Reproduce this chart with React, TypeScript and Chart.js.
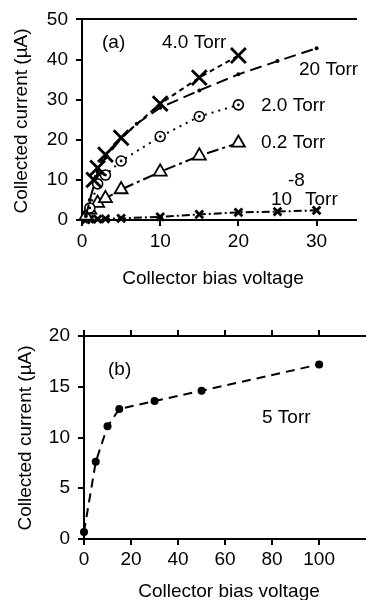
import React, { useEffect, useRef } from "react";
import { Chart, registerables } from "chart.js";

Chart.register(...registerables);

const FONT = '"Liberation Sans", Arial, Helvetica, sans-serif';
const BLACK = "#000";

// ---------- Panel (a) data ----------
const voltsA40 = [1.5, 2, 3, 5, 10, 15, 20];
const currA40 = [10, 13, 16.3, 20.5, 29, 35.5, 41];
const voltsA20 = [0.5, 1, 2, 3, 5, 7, 10, 15, 20, 25, 30];
const currA20 = [1, 5, 12, 15.5, 20.3, 24, 28, 32.3, 36.3, 39.6, 42.8];
const voltsA2 = [1, 2, 3, 5, 10, 15, 20];
const currA2 = [3, 9, 11.2, 14.7, 20.8, 25.8, 28.7];
const voltsA02 = [0.5, 1, 2, 3, 5, 10, 15, 20];
const currA02 = [1, 2.5, 4.2, 5.4, 7.6, 12, 16, 19.2];
const voltsAvac = [0.5, 1, 2, 3, 5, 10, 15, 20, 25, 30];
const currAvac = [0.1, 0.2, 0.2, 0.3, 0.4, 0.8, 1.4, 1.9, 2.1, 2.4];
const xTicksA = [0, 10, 20, 30];
const yTicksA = [0, 10, 20, 30, 40, 50];

// ---------- Panel (b) data ----------
const voltsB = [0, 5, 10, 15, 30, 50, 100];
const currB = [0.7, 7.6, 11.1, 12.8, 13.6, 14.6, 17.2];
const xTicksB = [0, 20, 40, 60, 80, 100];
const yTicksB = [0, 5, 10, 15, 20];

const xTitle = "Collector bias voltage";
const yTitle = "Collected current (\u00b5A)";

const pts = (xs: number[], ys: number[]) => xs.map((x, i) => ({ x, y: ys[i] }));
const setTicks = (vals: number[]) => (s: any) => {
  s.ticks = vals.map((v) => ({ value: v }));
};

type TextItem = { text: string; x: number; y: number; align?: CanvasTextAlign; rot?: boolean; size?: number };

const textPlugin = (items: TextItem[]) => ({
  id: "texts",
  afterDraw(chart: any) {
    const ctx = chart.ctx;
    ctx.save();
    ctx.fillStyle = BLACK;
    ctx.textBaseline = "middle";
    for (const it of items) {
      ctx.font = `${it.size || 19}px ${FONT}`;
      ctx.textAlign = it.align || "left";
      if (it.rot) {
        ctx.save();
        ctx.translate(it.x, it.y);
        ctx.rotate(-Math.PI / 2);
        ctx.textAlign = "center";
        ctx.fillText(it.text, 0, 0);
        ctx.restore();
      } else {
        ctx.fillText(it.text, it.x, it.y);
      }
    }
    ctx.restore();
  },
});

const tickFont = { family: FONT, size: 19 };

function axisX(min: number, max: number, ticks: number[], height: number, pad: number) {
  return {
    type: "linear",
    position: "bottom",
    min,
    max,
    afterBuildTicks: setTicks(ticks),
    ticks: { font: tickFont, color: BLACK, padding: pad, maxRotation: 0, autoSkip: false },
    grid: { drawOnChartArea: false, tickLength: 6, color: BLACK, lineWidth: 2 },
    border: { color: BLACK, width: 2 },
    afterFit: (s: any) => {
      s.height = height;
    },
  };
}

function axisTop(min: number, max: number, ticks: number[], height: number, showTicks: boolean) {
  return {
    type: "linear",
    position: "top",
    min,
    max,
    afterBuildTicks: setTicks(ticks),
    ticks: { display: false },
    grid: { display: showTicks, drawOnChartArea: false, tickLength: 6, color: BLACK, lineWidth: 2 },
    border: { color: BLACK, width: 2 },
    afterFit: (s: any) => {
      s.height = height;
    },
  };
}

function axisY(min: number, max: number, ticks: number[], width: number) {
  return {
    type: "linear",
    position: "left",
    min,
    max,
    afterBuildTicks: setTicks(ticks),
    ticks: { font: tickFont, color: BLACK, padding: 8 },
    grid: { drawOnChartArea: false, tickLength: 6, color: BLACK, lineWidth: 2 },
    border: { color: BLACK, width: 2 },
    afterFit: (s: any) => {
      s.width = width;
    },
  };
}

const baseDs = {
  borderColor: BLACK,
  pointBorderColor: BLACK,
  tension: 0,
  clip: false,
  borderWidth: 2,
};

function makeConfigA(): any {
  return {
    type: "line",
    data: {
      datasets: [
        {
          ...baseDs,
          label: "2.0 Torr centre",
          data: pts(voltsA2, currA2),
          showLine: false,
          pointStyle: "circle",
          pointRadius: 1.4,
          pointBackgroundColor: BLACK,
          pointBorderWidth: 0,
        },
        {
          ...baseDs,
          label: "4.0 Torr",
          data: pts(voltsA40, currA40),
          borderDash: [5, 4],
          pointStyle: "crossRot",
          pointRadius: 10.5,
          pointBorderWidth: 2.8,
        },
        {
          ...baseDs,
          label: "20 Torr",
          data: pts(voltsA20, currA20),
          borderDash: [12, 6],
          pointStyle: "circle",
          pointRadius: 2,
          pointBackgroundColor: BLACK,
          pointBorderWidth: 0,
        },
        {
          ...baseDs,
          label: "2.0 Torr",
          data: pts(voltsA2, currA2),
          borderDash: [2, 5],
          pointStyle: "circle",
          pointRadius: 5,
          pointBackgroundColor: "#fff",
          pointBorderWidth: 1.6,
        },
        {
          ...baseDs,
          label: "0.2 Torr",
          data: pts(voltsA02, currA02),
          borderDash: [12, 4, 3, 4],
          pointStyle: "triangle",
          pointRadius: 7.5,
          pointBackgroundColor: "#fff",
          pointBorderWidth: 1.8,
        },
        {
          ...baseDs,
          label: "1e-8 Torr",
          data: pts(voltsAvac, currAvac),
          borderDash: [8, 3, 2, 3],
          pointStyle: "crossRot",
          pointRadius: 5.5,
          pointBorderWidth: 2.8,
        },
      ],
    },
    options: {
      animation: false,
      responsive: false,
      maintainAspectRatio: false,
      layout: { padding: 0 },
      plugins: { legend: { display: false }, tooltip: { enabled: false } },
      scales: {
        x: axisX(0, 35, xTicksA, 80, 4),
        xTop: axisTop(0, 35, xTicksA, 17, false),
        y: axisY(0, 50, yTicksA, 82),
      },
    },
    plugins: [
      textPlugin([
        { text: "(a)", x: 102, y: 43 },
        { text: "4.0 Torr", x: 162, y: 43 },
        { text: "20 Torr", x: 299, y: 70 },
        { text: "2.0 Torr", x: 261, y: 106 },
        { text: "0.2 Torr", x: 261, y: 143 },
        { text: "-8", x: 288, y: 181 },
        { text: "10", x: 271, y: 200 },
        { text: "Torr", x: 305, y: 200 },
        { text: xTitle, x: 213, y: 279, align: "center" },
        { text: yTitle, x: 22, y: 121, rot: true },
      ]),
    ],
  };
}

function makeConfigB(): any {
  return {
    type: "line",
    data: {
      datasets: [
        {
          ...baseDs,
          label: "5 Torr",
          data: pts(voltsB, currB),
          borderDash: [9, 6],
          pointStyle: "circle",
          pointRadius: 4,
          pointBackgroundColor: BLACK,
          pointBorderWidth: 0,
        },
      ],
    },
    options: {
      animation: false,
      responsive: false,
      maintainAspectRatio: false,
      layout: { padding: 0 },
      plugins: { legend: { display: false }, tooltip: { enabled: false } },
      scales: {
        x: axisX(0, 119.5, xTicksB, 61, 3),
        xTop: axisTop(0, 119.5, xTicksB, 36, true),
        y: axisY(0, 20, yTicksB, 84),
      },
    },
    plugins: [
      textPlugin([
        { text: "(b)", x: 108, y: 70 },
        { text: "5 Torr", x: 262, y: 118 },
        { text: xTitle, x: 229, y: 292, align: "center" },
        { text: yTitle, x: 26, y: 138, rot: true },
      ]),
    ],
  };
}

function Panel({ top, height, make }: { top: number; height: number; make: () => any }) {
  const ref = useRef<HTMLCanvasElement | null>(null);
  useEffect(() => {
    if (!ref.current) return;
    const chart = new Chart(ref.current, make());
    return () => chart.destroy();
  }, [make]);
  return (
    <canvas
      ref={ref}
      width={369}
      height={height}
      style={{ position: "absolute", left: 0, top, width: 369, height, display: "block" }}
    />
  );
}

export default function App() {
  return (
    <div style={{ position: "fixed", left: 0, top: 0, width: 369, height: 600, background: "#fff", overflow: "hidden" }}>
      <Panel top={0} height={300} make={makeConfigA} />
      <Panel top={300} height={300} make={makeConfigB} />
    </div>
  );
}
